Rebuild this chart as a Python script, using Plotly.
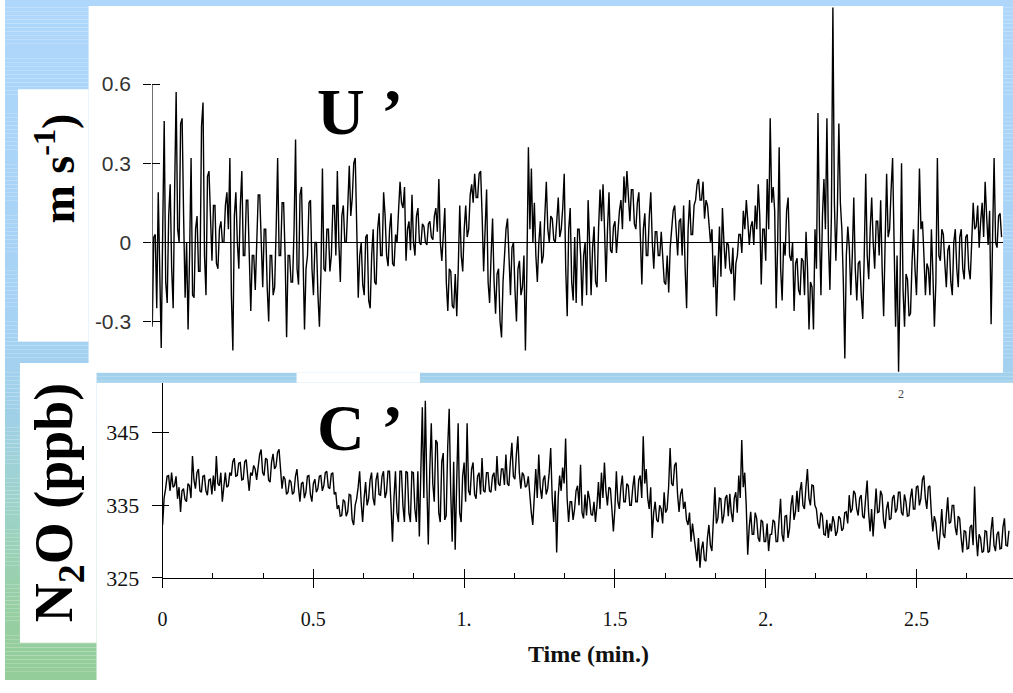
import numpy as np
import plotly.graph_objects as go

W, H = 1013, 693

# ---------------- data ----------------
# the records were digitised every half step (1.5 px = ~0.005 min):
# *_a holds the readings at t = k*STEP, *_b the readings at t = k*STEP + STEP/2
STEP_MIN = 3 / 303

# U' : wind-speed fluctuation (m s-1)
u_prime_a = [
    -0.32, 0.03, 0.19, -0.40, 0.46, -0.23, 0.22, -0.25, 0.57, 0.00, 0.47, -0.21, -0.33, 0.32, -0.21, 0.10,
    -0.11, 0.53, -0.20, 0.27, -0.07, 0.14, -0.10, 0.08, 0.00, 0.19, 0.32, -0.41, 0.19, -0.10, 0.27, -0.05,
    0.16, -0.26, -0.05, -0.02, 0.18, -0.17, 0.05, -0.30, -0.05, -0.17, 0.32, -0.05, 0.15, -0.36, -0.05, -0.15,
    0.39, -0.16, 0.21, -0.33, -0.05, 0.16, -0.20, 0.00, -0.32, 0.28, -0.11, 0.05, -0.05, 0.14, 0.27, -0.15,
    0.14, 0.00, 0.29, 0.17, 0.32, -0.21, 0.00,
    -0.20, 0.03, -0.25, 0.05, -0.16, 0.11, -0.05, 0.10, -0.09, 0.11, -0.09, 0.00, 0.23, 0.13, -0.07, 0.08,
    0.18, -0.05, 0.13, -0.01, 0.06, -0.01, 0.08, 0.01, 0.13, 0.24, -0.07, 0.13, -0.26, -0.11, -0.25, -0.28,
    0.14, -0.11, 0.14, 0.05, 0.22, 0.26, 0.17, 0.27, -0.11, 0.20, -0.23, 0.09, -0.27, -0.10, -0.36, -0.02,
    0.09, -0.20, 0.00, -0.30, -0.07, -0.17, -0.41, 0.36, 0.28, 0.15, -0.15, 0.08, -0.05, 0.23, 0.00, 0.09,
    0.00, 0.17, 0.05, 0.26, -0.28, 0.13, -0.22,
    -0.23, 0.05, -0.24, 0.00, 0.16, -0.20, 0.06, -0.17, 0.20, 0.22, -0.15, 0.19, -0.04, 0.08, 0.05, 0.16,
    0.25, 0.27, 0.08, 0.20, 0.05, 0.19, -0.16, 0.11, -0.05, 0.19, -0.10, 0.04, -0.05, -0.07, -0.16, -0.19,
    0.05, 0.14, -0.05, 0.09, 0.14, -0.25, 0.16, 0.03, 0.16, 0.24, 0.16, 0.09, 0.14, 0.00, -0.17, -0.28,
    0.06, 0.13, -0.10, -0.01, -0.12, -0.22, -0.05, 0.03, 0.12, 0.16, -0.01, 0.08, 0.14, 0.22, -0.16, 0.05,
    0.24, 0.47, 0.21, -0.25, 0.36, -0.22, -0.05,
    0.17, -0.07, -0.26, -0.06, -0.20, -0.07, 0.04, -0.33, -0.17, 0.05, 0.49, -0.20, 0.24, 0.47, -0.18, 0.89,
    -0.07, 0.45, 0.05, -0.44, 0.06, -0.20, 0.17, -0.22, -0.07, -0.29, 0.26, -0.14, 0.17, -0.10, 0.08, 0.16,
    -0.28, 0.26, 0.05, 0.32, -0.32, -0.49, 0.30, -0.32, -0.14, -0.27, 0.05, -0.20, 0.28, 0.08, -0.20, -0.10,
    0.05, -0.32, 0.32, -0.07, 0.03, -0.17, -0.01, -0.20, 0.05, -0.17, 0.05, -0.14, 0.03, -0.14, 0.15, 0.06,
    -0.02, 0.15, 0.23, -0.01, -0.31, 0.32, -0.02, 0.11,
]
u_prime_b = [
    0.02, -0.25, -0.10, 0.05, -0.15, 0.10, -0.10, 0.20, 0.05, 0.45, 0.10, 0.00, -0.05, -0.20, 0.05, -0.11,
    0.44, -0.05, 0.25, 0.10, 0.14, -0.08, 0.05, 0.00, 0.14, 0.05, -0.20, 0.10, 0.00, 0.14, -0.05, 0.16,
    -0.05, -0.05, -0.18, 0.18, -0.05, 0.05, -0.17, -0.05, -0.20, 0.05, -0.05, 0.15, -0.05, -0.05, -0.15, 0.05,
    -0.10, 0.18, -0.05, -0.10, 0.15, -0.10, 0.00, -0.20, -0.12, -0.10, 0.05, -0.11, 0.14, -0.05, 0.00, 0.10,
    0.00, 0.14, 0.10, 0.30, 0.05, -0.05, -0.16,
    0.02, -0.22, -0.05, -0.15, 0.05, -0.05, 0.19, -0.05, 0.05, -0.08, 0.03, 0.12, 0.15, 0.21, 0.05, -0.03,
    0.00, 0.10, 0.00, 0.07, 0.00, 0.07, 0.02, 0.10, 0.04, 0.00, 0.03, -0.15, -0.10, -0.24, -0.12, -0.10,
    -0.05, 0.05, 0.02, 0.18, 0.15, 0.17, 0.26, 0.10, 0.05, -0.15, -0.05, -0.15, -0.12, -0.30, -0.15, 0.05,
    -0.05, -0.02, -0.18, -0.10, -0.20, -0.05, -0.10, 0.05, 0.00, -0.05, 0.00, -0.08, 0.10, 0.05, 0.10, 0.01,
    0.08, 0.02, 0.13, -0.10, 0.05, -0.15, 0.02,
    0.05, -0.05, -0.05, -0.20, 0.00, -0.02, -0.15, 0.05, 0.08, 0.05, 0.05, -0.03, 0.06, -0.04, 0.12, 0.05,
    0.15, 0.17, 0.20, 0.07, 0.15, 0.02, 0.05, -0.05, 0.10, 0.00, 0.04, -0.05, 0.04, -0.15, -0.05, -0.02,
    0.12, 0.05, 0.08, -0.05, -0.10, 0.05, 0.03, 0.14, 0.22, 0.16, 0.23, 0.16, 0.07, 0.05, -0.05, -0.10,
    -0.13, 0.00, 0.00, -0.10, -0.02, -0.08, 0.03, -0.04, 0.05, 0.08, 0.06, -0.01, 0.05, 0.10, 0.05, -0.07,
    0.05, 0.15, 0.12, 0.00, -0.10, 0.00, 0.12,
    -0.05, 0.00, -0.08, -0.18, -0.06, -0.20, -0.10, -0.15, -0.33, -0.10, 0.05, 0.10, 0.05, 0.00, 0.10, 0.15,
    0.12, 0.15, -0.15, -0.05, -0.02, -0.05, -0.10, -0.08, -0.20, -0.05, -0.05, 0.05, 0.00, 0.08, -0.05, -0.10,
    0.00, 0.02, 0.20, 0.00, -0.05, -0.15, -0.18, -0.12, -0.28, -0.08, -0.10, 0.00, 0.05, -0.05, -0.08, -0.20,
    -0.12, -0.15, -0.05, 0.05, -0.08, -0.03, -0.15, 0.00, -0.10, 0.02, -0.10, 0.02, -0.10, 0.00, 0.05, 0.14,
    0.08, 0.02, 0.10, 0.12, 0.02, 0.00, 0.10, 0.02,
]

# C' : N2O mixing ratio (ppb)
n2o_a = [
    332.3, 337.3, 339.1, 339.5, 337.7, 335.9, 334.1, 337.3, 335.5, 337.7, 341.8, 337.3, 340.0, 336.8, 339.1, 336.4,
    338.6, 339.1, 341.8, 337.7, 335.5, 339.5, 337.7, 339.1, 341.5, 339.1, 340.9, 338.6, 341.3, 337.0, 339.1, 340.0,
    340.4, 342.7, 339.1, 341.3, 338.2, 342.1, 340.4, 342.7, 337.3, 338.6, 336.8, 338.2, 336.8, 340.0, 335.5, 338.2,
    336.8, 339.1, 335.5, 338.6, 337.3, 339.1, 337.7, 339.7, 337.3, 339.5, 336.8, 335.0, 333.6, 335.5, 334.1, 336.4,
    332.3, 335.9, 339.7, 332.7, 338.2, 335.9, 339.5,
    335.0, 339.5, 336.4, 339.7, 336.8, 339.7, 330.0, 339.7, 332.7, 339.7, 332.7, 339.5, 332.7, 339.5, 332.7, 330.7,
    348.5, 349.4, 329.6, 346.3, 335.5, 343.6, 332.7, 342.2, 333.6, 348.3, 330.0, 328.9, 346.3, 332.7, 340.9, 346.3,
    336.4, 340.9, 335.9, 339.5, 341.5, 336.8, 339.5, 336.8, 339.5, 341.8, 337.7, 340.0, 342.0, 337.7, 343.6, 338.6,
    344.5, 337.3, 339.1, 337.7, 335.9, 332.3, 340.0, 342.0, 335.9, 339.1, 337.3, 342.9, 332.7, 328.5, 339.1, 340.2,
    344.2, 332.7, 335.5, 334.5, 337.7, 340.6, 333.2,
    333.6, 335.9, 333.6, 332.7, 338.2, 339.5, 340.9, 335.0, 337.3, 331.4, 339.7, 334.5, 339.1, 335.5, 337.7, 335.0,
    339.1, 335.5, 339.1, 344.5, 340.0, 334.5, 330.5, 335.5, 332.7, 334.5, 336.8, 334.5, 342.9, 337.7, 340.9, 334.1,
    337.3, 335.5, 332.3, 330.0, 331.0, 327.3, 326.4, 330.0, 327.3, 332.3, 328.7, 337.5, 333.2, 335.9, 333.6, 336.4,
    336.6, 332.7, 336.8, 339.1, 344.0, 339.5, 328.2, 334.1, 331.0, 333.2, 330.0, 332.7, 330.0, 328.7, 331.0, 332.7,
    330.0, 335.9, 330.0, 333.6, 331.8, 336.4, 334.1,
    334.1, 338.2, 334.5, 340.0, 335.0, 337.7, 334.5, 331.8, 333.6, 330.9, 330.5, 331.4, 332.7, 331.4, 333.2, 331.8,
    334.1, 336.4, 334.5, 336.6, 333.6, 336.4, 333.2, 338.4, 331.4, 330.7, 337.3, 334.1, 336.4, 331.8, 335.5, 333.2,
    336.4, 334.5, 336.8, 333.6, 335.5, 333.6, 337.3, 334.5, 337.7, 335.9, 339.1, 334.5, 337.7, 331.4, 332.7, 328.9,
    334.5, 330.5, 336.1, 332.7, 335.0, 330.9, 333.2, 328.5, 331.4, 329.1, 332.3, 337.6, 328.0, 330.5, 328.7, 331.4,
    328.7, 333.4, 328.7, 331.4, 329.1, 333.2, 329.4,
]
n2o_b = [
    336.0, 339.0, 337.0, 337.5, 339.0, 337.5, 337.0, 335.8, 338.0, 336.0, 338.5, 339.5, 337.0, 339.0, 337.0, 338.5,
    336.5, 337.0, 338.0, 339.5, 338.0, 337.5, 339.5, 341.0, 339.0, 340.8, 338.5, 341.0, 339.0, 339.5, 340.5, 338.5,
    342.0, 339.5, 341.5, 338.5, 341.0, 340.0, 342.3, 339.5, 339.0, 336.5, 338.5, 336.5, 339.0, 337.5, 338.0, 336.0,
    339.0, 336.5, 338.0, 336.8, 339.0, 337.0, 339.5, 337.5, 339.3, 336.5, 334.5, 333.5, 335.8, 333.5, 336.5, 333.0,
    335.0, 337.5, 335.5, 336.0, 335.0, 338.5, 336.0,
    338.5, 336.5, 339.0, 336.0, 339.7, 335.0, 336.0, 334.0, 339.7, 335.0, 339.7, 334.0, 339.6, 334.5, 339.7, 339.7,
    336.0, 338.0, 340.0, 338.0, 344.0, 334.0, 341.0, 333.0, 343.0, 337.0, 341.0, 338.0, 334.0, 339.0, 335.5, 337.0,
    340.0, 336.5, 339.0, 336.5, 337.0, 339.5, 337.0, 339.0, 337.0, 338.0, 340.0, 337.8, 338.0, 341.0, 339.0, 342.0,
    339.5, 339.5, 337.5, 339.0, 334.0, 335.5, 336.0, 337.5, 338.5, 336.5, 339.5, 336.0, 337.0, 336.0, 337.0, 338.0,
    336.0, 335.5, 333.0, 337.0, 335.0, 334.0, 336.5,
    337.0, 333.8, 335.5, 335.0, 334.5, 336.0, 337.0, 337.5, 334.5, 334.5, 335.5, 337.5, 335.5, 338.0, 335.0, 337.5,
    335.5, 338.5, 336.0, 338.0, 336.0, 337.5, 334.0, 333.0, 335.0, 332.5, 334.0, 337.5, 338.0, 340.5, 336.5, 336.5,
    334.5, 333.0, 334.0, 332.5, 329.0, 330.5, 329.0, 327.5, 330.5, 329.5, 333.0, 332.5, 336.0, 332.5, 336.0, 333.5,
    334.0, 336.0, 334.0, 336.0, 337.5, 335.0, 332.0, 331.0, 334.0, 330.5, 333.0, 330.0, 332.5, 331.0, 333.0, 330.0,
    333.0, 331.0, 333.5, 330.5, 335.0, 333.0, 337.0,
    337.0, 335.0, 337.5, 336.0, 337.8, 335.0, 332.5, 334.0, 331.0, 333.0, 332.5, 333.5, 330.8, 333.5, 331.5, 334.0,
    332.5, 334.0, 337.0, 334.5, 336.0, 333.5, 336.0, 334.0, 334.5, 334.0, 334.0, 337.0, 333.0, 334.5, 333.0, 336.0,
    334.0, 336.8, 334.0, 336.5, 333.5, 336.0, 334.5, 337.5, 335.0, 338.5, 336.0, 337.5, 334.0, 333.5, 330.5, 331.5,
    331.0, 333.5, 332.5, 335.0, 332.0, 333.5, 330.5, 331.5, 329.0, 332.0, 329.5, 331.0, 331.0, 328.5, 331.5, 328.5,
    331.5, 329.5, 331.0, 329.0, 332.0, 329.5, 331.5,
]

time_tick_vals = [0, 0.5, 1, 1.5, 2, 2.5]
time_tick_text = ["0", "0.5", "1.", "1.5", "2.", "2.5"]
u_tick_vals = [-0.3, 0, 0.3, 0.6]
u_tick_text = ["-0.3", "0", "0.3", "0.6"]
c_tick_vals = [325, 335, 345]
c_tick_text = ["325", "335", "345"]


def merge(a, b):
    """interleave the two reading sets in time order"""
    n = min(len(a), len(b))
    t = np.column_stack([np.arange(n) * STEP_MIN, np.arange(n) * STEP_MIN + STEP_MIN / 2]).ravel()
    v = np.column_stack([np.asarray(a[:n]), np.asarray(b[:n])]).ravel()
    return t, v


t_u, v_u = merge(u_prime_a, u_prime_b)
t_c, v_c = merge(n2o_a, n2o_b)


# ---------------- helpers: pixel -> paper ----------------
def px(x):
    return x / W


def py(y):
    return 1 - y / H


SERIF = "Liberation Serif, Times New Roman, serif"
SANS = "Liberation Sans, Arial, sans-serif"

# ---------------- background gradient ----------------
stops = [(0, (174, 215, 251)), (330, (166, 210, 244)), (420, (160, 208, 232)),
         (520, (157, 211, 200)), (610, (152, 207, 166)), (693, (148, 205, 152))]


def grad_color(y):
    for (y0, c0), (y1, c1) in zip(stops[:-1], stops[1:]):
        if y0 <= y <= y1:
            f = (y - y0) / (y1 - y0)
            c = [round(a + (b - a) * f) for a, b in zip(c0, c1)]
            return "rgb(%d,%d,%d)" % tuple(c)
    return "rgb(%d,%d,%d)" % stops[-1][1]


shapes = []
step = 4
for y in range(0, H, step):
    shapes.append(dict(type="rect", xref="paper", yref="paper", x0=0, x1=1,
                       y0=py(min(y + step, H)), y1=py(y), layer="below",
                       line=dict(width=0), fillcolor=grad_color(y + step / 2)))

white_boxes = [
    (84, 6, 1003, 380),    # top panel
    (13, 91, 84, 348),     # top label box
    (15, 370, 92, 655),    # bottom label box
    (92, 390, 1013, 693),  # bottom panel
    (293, 380, 417, 390),  # small white strip
]
for x0, y0, x1, y1 in white_boxes:
    shapes.append(dict(type="rect", xref="paper", yref="paper", x0=px(x0), x1=px(x1),
                       y0=py(y1), y1=py(y0), layer="below", line=dict(width=0),
                       fillcolor="white"))

# top panel y axis line (only between -0.3 and 0.6)
shapes.append(dict(type="line", xref="x", yref="y", x0=0, x1=0, y0=-0.31, y1=0.6,
                   line=dict(color="black", width=1)))

# ---------------- traces ----------------
fig = go.Figure()
fig.add_trace(go.Scatter(x=t_u, y=v_u, mode="lines", xaxis="x", yaxis="y",
                         line=dict(color="black", width=1.4), hoverinfo="skip", showlegend=False))
fig.add_trace(go.Scatter(x=t_c, y=v_c, mode="lines", xaxis="x2", yaxis="y2",
                         line=dict(color="black", width=1.4), hoverinfo="skip", showlegend=False))
# empty traces so the overlay (tick-crossing) axes are drawn
fig.add_trace(go.Scatter(x=[], y=[], xaxis="x", yaxis="y3", showlegend=False))
fig.add_trace(go.Scatter(x=[], y=[], xaxis="x3", yaxis="y2", showlegend=False))
fig.add_trace(go.Scatter(x=[], y=[], xaxis="x2", yaxis="y4", showlegend=False))

top_x_dom = [px(148), px(1003)]
top_x_rng = [0, (1003 - 148) / 303]
top_y_dom = [py(380), py(6)]
top_y_rng = [(247 - 380) / 268.9, (247 - 6) / 268.9]

bot_x_dom = [px(158.4), 1.0]
bot_x_rng = [0, (1013 - 158.4) / 303]
bot_y_dom = [py(589), py(390)]
bot_y_rng = [325, 335 + (515 - 390) / 7.4]

fig.update_layout(
    width=W, height=H, margin=dict(l=0, r=0, t=0, b=0),
    paper_bgcolor="white", plot_bgcolor="rgba(0,0,0,0)", showlegend=False,
    shapes=shapes,
    xaxis=dict(domain=top_x_dom, range=top_x_rng, anchor="y", visible=False, fixedrange=True),
    yaxis=dict(domain=top_y_dom, range=top_y_rng, anchor="x", showgrid=False, showline=False,
               zeroline=True, zerolinecolor="black", zerolinewidth=1,
               tickmode="array", tickvals=u_tick_vals, ticktext=u_tick_text,
               ticks="outside", ticklen=8, tickcolor="black", tickwidth=1,
               ticklabelstandoff=8,
               tickfont=dict(family=SANS, size=21, color="#333333")),
    yaxis3=dict(overlaying="y", anchor="x", range=top_y_rng, showgrid=False, showline=False,
                zeroline=False, tickmode="array", tickvals=u_tick_vals, ticks="inside",
                ticklen=8, tickcolor="black", showticklabels=False),
    xaxis2=dict(domain=bot_x_dom, range=bot_x_rng, anchor="y2", showgrid=False, zeroline=False,
                showline=True, linecolor="black", linewidth=1,
                tickmode="array", tickvals=time_tick_vals, ticktext=time_tick_text,
                ticks="outside", ticklen=9, tickcolor="black", ticklabelstandoff=14,
                tickfont=dict(family=SERIF, size=20, color="#111111")),
    xaxis3=dict(overlaying="x2", anchor="y2", range=bot_x_rng, showgrid=False, zeroline=False,
                showline=False, tickmode="array", tickvals=time_tick_vals, ticks="inside",
                ticklen=9, tickcolor="black", showticklabels=False,
                minor=dict(ticks="inside", ticklen=5, tickcolor="black",
                           tickmode="linear", tick0=0, dtick=1 / 6)),
    yaxis2=dict(domain=bot_y_dom, range=bot_y_rng, anchor="x2", showgrid=False, zeroline=False,
                showline=True, linecolor="black", linewidth=1,
                tickmode="array", tickvals=c_tick_vals, ticktext=c_tick_text,
                ticks="outside", ticklen=10, tickcolor="black", ticklabelstandoff=8,
                tickfont=dict(family=SERIF, size=22, color="#111111")),
    yaxis4=dict(overlaying="y2", anchor="x2", range=bot_y_rng, showgrid=False, zeroline=False,
                showline=False, tickmode="array", tickvals=c_tick_vals, ticks="inside",
                ticklen=6, tickcolor="black", showticklabels=False),
)

annotations = [
    dict(text="<b>U ’</b>", x=px(357), y=py(114), font=dict(family=SERIF, size=66, color="black")),
    dict(text="<b>C ’</b>", x=px(357), y=py(436), font=dict(family=SERIF, size=66, color="black")),
    dict(text="2", x=px(900), y=py(402), font=dict(family=SERIF, size=12, color="#444444")),
    dict(text="<b>m s<sup>-1</sup>)</b>", x=px(50), y=py(172), textangle=-90,
         font=dict(family=SERIF, size=46, color="black")),
    dict(text="<b>N<sub>2</sub>O (ppb)</b>", x=px(53), y=py(512), textangle=-90,
         font=dict(family=SERIF, size=54, color="black")),
    dict(text="<b>Time (min.)</b>", x=px(586), y=py(666), font=dict(family=SERIF, size=24, color="#111111")),
]
for a in annotations:
    a.update(xref="paper", yref="paper", xanchor="center", yanchor="middle", showarrow=False)
fig.update_layout(annotations=annotations)

fig.write_html("out.html")
